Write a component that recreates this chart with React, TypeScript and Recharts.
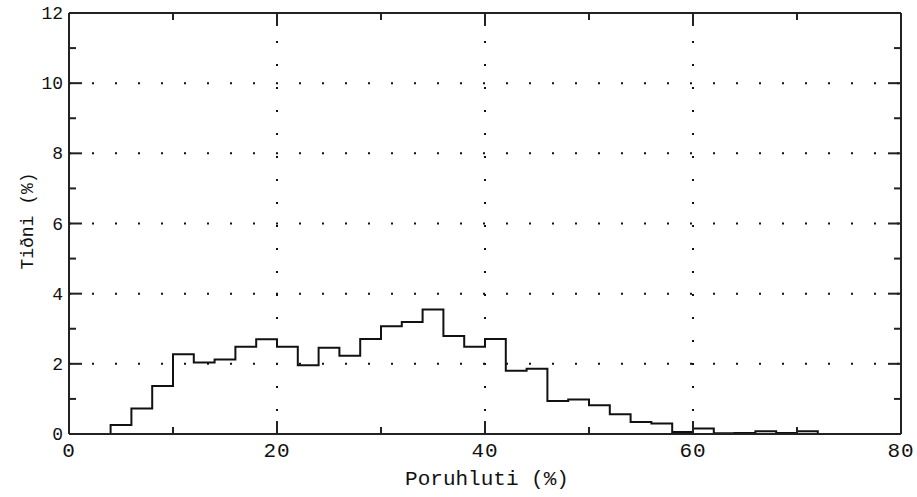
import { ComposedChart, Line, ReferenceLine, XAxis, YAxis } from 'recharts';

// histogram bin edges (%) and frequency of each bin (%), last value repeats to close the step
const binEdges = [
  0, 2, 4, 6, 8, 10, 12, 14, 16, 18, 20, 22, 24, 26, 28, 30, 32, 34, 36, 38, 40,
  42, 44, 46, 48, 50, 52, 54, 56, 58, 60, 62, 64, 66, 68, 70, 72, 74, 76, 78, 80,
];
const binValues = [
  0, 0, 0.26, 0.73, 1.37, 2.27, 2.04, 2.12, 2.49, 2.7, 2.49, 1.96, 2.46, 2.23, 2.71, 3.07,
  3.19, 3.55, 2.79, 2.49, 2.71, 1.8, 1.86, 0.94, 0.98, 0.82, 0.56, 0.34, 0.3, 0.06, 0.16,
  0.02, 0.03, 0.08, 0.03, 0.08, 0, 0, 0, 0, 0,
];

const xTicks = [0, 10, 20, 30, 40, 50, 60, 70, 80];
const xLabels = [0, 20, 40, 60, 80];
const yTicks = [0, 1, 2, 3, 4, 5, 6, 7, 8, 9, 10, 11, 12];
const yLabels = [0, 2, 4, 6, 8, 10, 12];
const xGrid = [20, 40, 60];
const yGrid = [2, 4, 6, 8, 10];

const data = binEdges.map((x, i) => ({ x, v: binValues[i] }));

const FONT = '"Liberation Mono", "DejaVu Sans Mono", monospace';
const INK = '#111';
const FRAME = '#222';
const PLOT_W = 832;
const PLOT_H = 421;

// inward tick on bottom and matching one on the top edge
const BottomTick = (props: any) => {
  const { x, y, payload } = props;
  const major = xLabels.includes(payload.value);
  const len = major ? 13 : 7;
  return (
    <g>
      <rect x={x - 1} y={y - len} width={2} height={len} fill={FRAME} />
      <rect x={x - 1} y={y - PLOT_H} width={2} height={len} fill={FRAME} />
      {major && (
        <text x={x} y={y + 23} textAnchor="middle" fontFamily={FONT} fontSize={21} letterSpacing={1} fill={INK}>
          {payload.value}
        </text>
      )}
    </g>
  );
};

// inward tick on the left and matching one on the right edge
const LeftTick = (props: any) => {
  const { x, y, payload } = props;
  const major = yLabels.includes(payload.value);
  const len = major ? 13 : 7;
  return (
    <g>
      <rect x={x} y={y - 1} width={len} height={2} fill={FRAME} />
      <rect x={x + PLOT_W - len} y={y - 1} width={len} height={2} fill={FRAME} />
      {major && (
        <text x={x - 6} y={y + 6} textAnchor="end" fontFamily={FONT} fontSize={18} fill={INK}>
          {payload.value}
        </text>
      )}
    </g>
  );
};

export default function App() {
  return (
    <div style={{ position: 'absolute', left: 0, top: 0, width: 917, height: 497, background: '#fff' }}>
      <ComposedChart width={917} height={497} data={data} margin={{ top: 13, right: 16, bottom: 0, left: 0 }}>
        <XAxis
          xAxisId="b"
          dataKey="x"
          type="number"
          domain={[0, 80]}
          ticks={xTicks}
          interval={0}
          height={63}
          tickSize={0}
          tickMargin={0}
          tickLine={false}
          tick={<BottomTick />}
          axisLine={{ stroke: FRAME, strokeWidth: 2 }}
          allowDataOverflow
        />
        <YAxis
          yAxisId="l"
          type="number"
          domain={[0, 12]}
          ticks={yTicks}
          interval={0}
          width={69}
          tickSize={0}
          tickMargin={0}
          tickLine={false}
          tick={<LeftTick />}
          axisLine={{ stroke: FRAME, strokeWidth: 2 }}
          allowDataOverflow
        />
        {yGrid.map((v) => (
          <ReferenceLine key={`gy${v}`} xAxisId="b" yAxisId="l" y={v} stroke={INK} strokeWidth={2} strokeDasharray="2 21" />
        ))}
        {xGrid.map((v) => (
          <ReferenceLine key={`gx${v}`} xAxisId="b" yAxisId="l" x={v} stroke={INK} strokeWidth={2} strokeDasharray="2 21" />
        ))}
        {/* top and right edges of the frame */}
        <ReferenceLine xAxisId="b" yAxisId="l" y={12} stroke={FRAME} strokeWidth={2} ifOverflow="visible" />
        <ReferenceLine xAxisId="b" yAxisId="l" x={80} stroke={FRAME} strokeWidth={2} ifOverflow="visible" />
        <Line
          xAxisId="b"
          yAxisId="l"
          type="stepAfter"
          dataKey="v"
          stroke={INK}
          strokeWidth={2}
          dot={false}
          isAnimationActive={false}
        />
      </ComposedChart>
      <div
        style={{
          position: 'absolute',
          left: 487,
          top: 469,
          transform: 'translateX(-50%)',
          fontFamily: FONT,
          fontSize: 21,
          lineHeight: '21px',
          whiteSpace: 'nowrap',
          color: INK,
        }}
      >
        Poruhluti (%)
      </div>
      <div
        style={{
          position: 'absolute',
          left: 28,
          top: 221,
          transform: 'translate(-50%, -50%) rotate(-90deg)',
          fontFamily: FONT,
          fontSize: 18,
          lineHeight: '18px',
          whiteSpace: 'nowrap',
          color: INK,
        }}
      >
        Tiðni (%)
      </div>
    </div>
  );
}
